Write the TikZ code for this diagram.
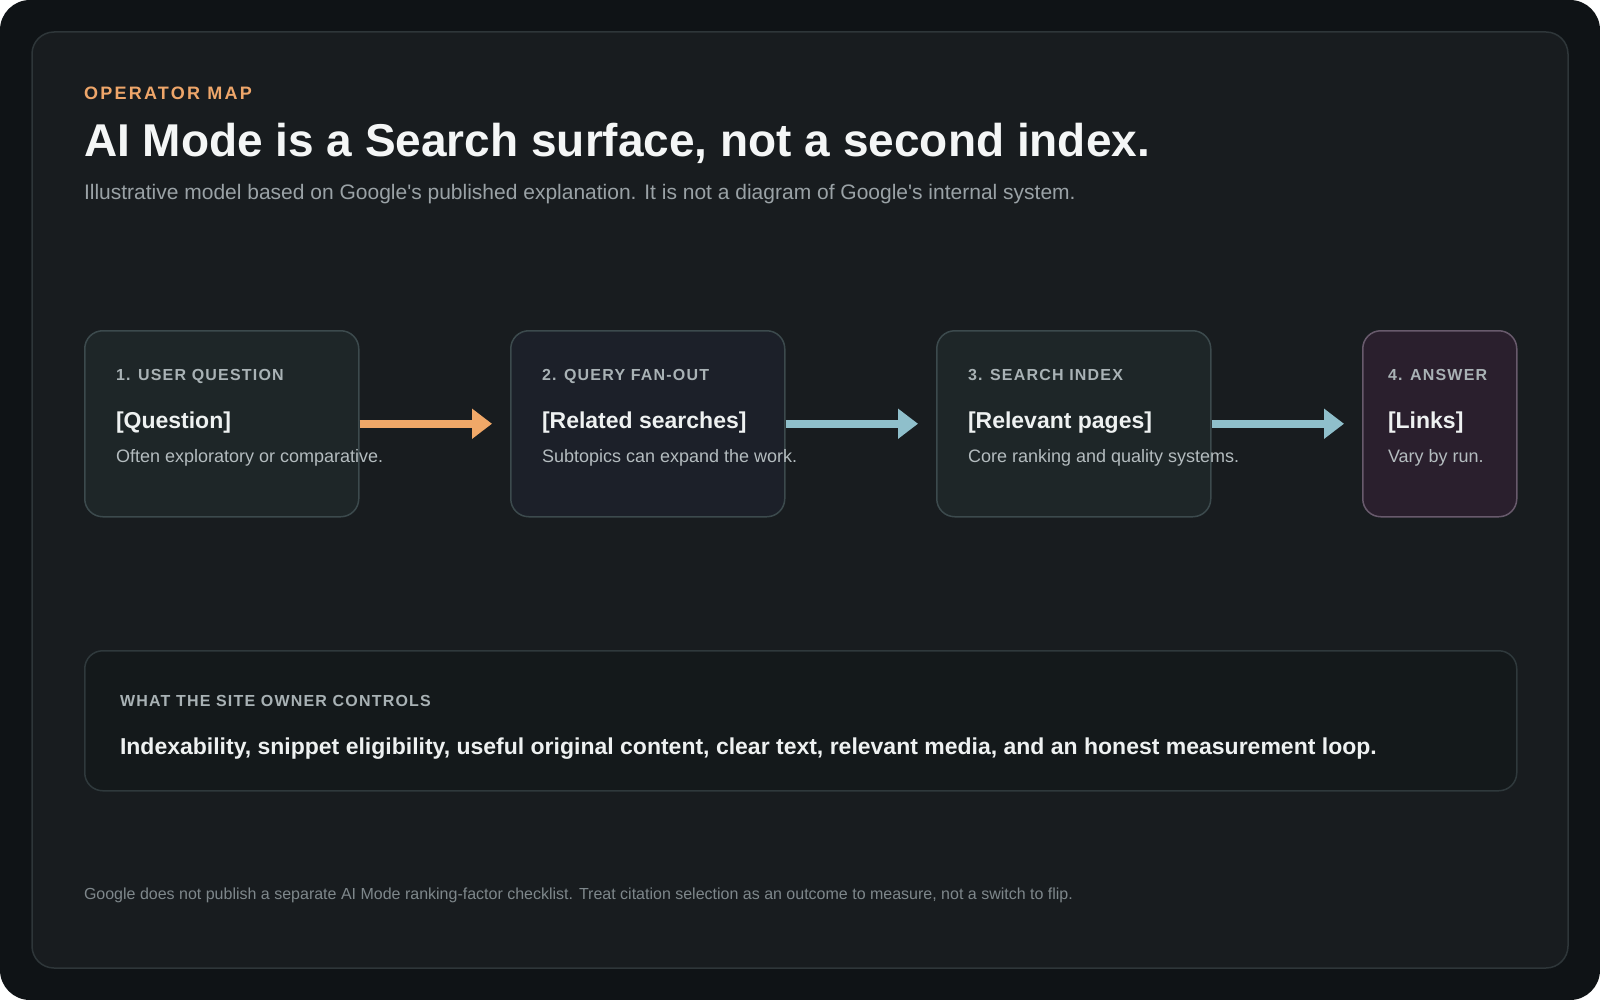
\documentclass[tikz,border=0pt]{standalone}
\usepackage{fontspec}
\setmainfont{Liberation Sans}
\usetikzlibrary{arrows.meta,calc}
\definecolor{outerbg}{HTML}{0F1316}
\definecolor{cardbg}{HTML}{181C1F}
\definecolor{cardline}{HTML}{2E3639}
\definecolor{kickc}{HTML}{EEA66A}
\definecolor{titlec}{HTML}{F4F6F6}
\definecolor{subc}{HTML}{9AA2A6}
\definecolor{boxfa}{HTML}{1E2628}
\definecolor{boxfb}{HTML}{1C2029}
\definecolor{boxla}{HTML}{3C4A4D}
\definecolor{boxfd}{HTML}{2A1F2D}
\definecolor{boxld}{HTML}{685A6C}
\definecolor{lblc}{HTML}{A9B2B5}
\definecolor{headc}{HTML}{EEF1F1}
\definecolor{descc}{HTML}{B4BCBF}
\definecolor{arrowo}{HTML}{F0A868}
\definecolor{arrowb}{HTML}{8FBFCB}
\definecolor{botf}{HTML}{14191B}
\definecolor{botl}{HTML}{2F393C}
\definecolor{footc}{HTML}{7E878B}
\begin{document}
\begin{tikzpicture}[x=1pt,y=-1pt,
  txt/.style={inner sep=0pt, outer sep=0pt, anchor=base west},
  stepbox/.style={draw=boxla, fill=boxfa, line width=1.5pt, rounded corners=18pt,
    minimum width=274pt, minimum height=186pt, anchor=north west, inner sep=0pt},
  lbl/.style={txt, text=lblc, font=\fontsize{16}{19}\selectfont\bfseries\addfontfeatures{LetterSpace=7.5}},
  head/.style={txt, text=headc, font=\fontsize{23}{27}\selectfont\bfseries},
  desc/.style={txt, text=descc, font=\fontsize{18}{21}\selectfont},
  flow/.style={line width=8pt, -{Triangle[length=20pt,width=29pt]}}
]
\useasboundingbox (0,0) rectangle (1600,1000);
\fill[white] (0,0) rectangle (1600,1000);
\fill[outerbg, rounded corners=30pt] (0,0) rectangle (1600,1000);
\draw[cardline, fill=cardbg, rounded corners=22pt, line width=1.5pt] (32,32) rectangle (1568,968);

\node[txt, text=kickc, font=\fontsize{18}{22}\selectfont\bfseries\addfontfeatures{LetterSpace=12.5}] (kick) at (84,100) {OPERATOR MAP};
\node[txt, text=titlec, font=\fontsize{46}{52}\selectfont\bfseries] (title) at (84,157) {AI Mode is a Search surface, not a second index.};
\node[txt, text=subc, font=\fontsize{21}{25}\selectfont] (sub) at (84,200) {Illustrative model based on Google\textquotesingle s published explanation. It is not a diagram of Google\textquotesingle s internal system.};

\node[stepbox] (b1) at (84,330) {};
\node[stepbox, fill=boxfb] (b2) at (510,330) {};
\node[stepbox] (b3) at (936,330) {};
\node[stepbox, fill=boxfd, draw=boxld, minimum width=154pt] (b4) at (1362,330) {};

\draw[flow, arrowo] (b1.east) -- ($(b2.west)+(-18,0)$);
\draw[flow, arrowb] (b2.east) -- ($(b3.west)+(-18,0)$);
\draw[flow, arrowb] (b3.east) -- ($(b4.west)+(-18,0)$);

\node[lbl] (l1) at (116,380) {1. USER QUESTION};
\node[head] (h1) at (116,428) {[Question]};
\node[desc] (d1) at (116,462) {Often exploratory or comparative.};

\node[lbl] (l2) at (542,380) {2. QUERY FAN-OUT};
\node[head] (h2) at (542,428) {[Related searches]};
\node[desc] (d2) at (542,462) {Subtopics can expand the work.};

\node[lbl] (l3) at (968,380) {3. SEARCH INDEX};
\node[head] (h3) at (968,428) {[Relevant pages]};
\node[desc] (d3) at (968,462) {Core ranking and quality systems.};

\node[lbl] (l4) at (1388,380) {4. ANSWER};
\node[head] (h4) at (1388,428) {[Links]};
\node[desc] (d4) at (1388,462) {Vary by run.};

\node[draw=botl, fill=botf, line width=1.5pt, rounded corners=18pt, minimum width=1432pt, minimum height=140pt, anchor=north west, inner sep=0pt] (own) at (84,650) {};
\node[lbl] (ownl) at (120,706) {WHAT THE SITE OWNER CONTROLS};
\node[head] (ownt) at (120,754) {Indexability, snippet eligibility, useful original content, clear text, relevant media, and an honest measurement loop.};

\node[txt, text=footc, font=\fontsize{16}{19}\selectfont] (foot) at (84,899) {Google does not publish a separate AI Mode ranking-factor checklist. Treat citation selection as an outcome to measure, not a switch to flip.};
\end{tikzpicture}
\end{document}
